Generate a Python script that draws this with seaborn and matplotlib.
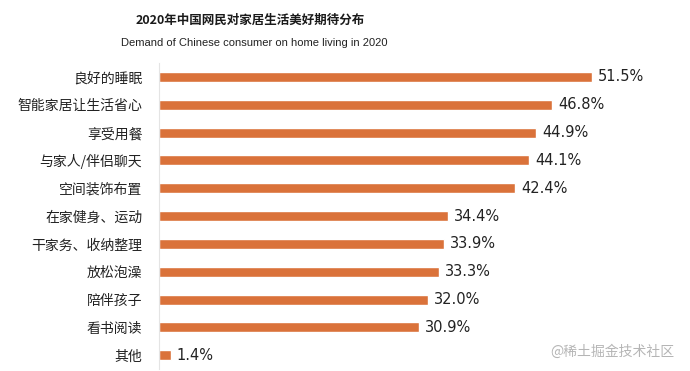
import pandas as pd
import matplotlib
matplotlib.use('Agg')
import matplotlib.pyplot as plt
import seaborn as sns

# data
categories = ['良好的睡眠', '智能家居让生活省心', '享受用餐', '与家人/伴侣聊天', '空间装饰布置',
              '在家健身、运动', '干家务、收纳整理', '放松泡澡', '陪伴孩子', '看书阅读', '其他']
shares = [51.5, 46.8, 44.9, 44.1, 42.4, 34.4, 33.9, 33.3, 32.0, 30.9, 1.4]

title_cn = '2020年中国网民对家居生活美好期待分布'
title_en = 'Demand of Chinese consumer on home living in 2020'
watermark = '@稀土掘金技术社区'

df = pd.DataFrame({'item': categories, 'share': shares})

sns.set_style('white')
plt.rcParams['font.family'] = ['Noto Sans CJK SC', 'DejaVu Sans']

fig = plt.figure(figsize=(6.9, 3.71), dpi=100)
ax = fig.add_axes([159 / 690, 0.005, 521 / 690, 0.825])

sns.barplot(data=df, x='share', y='item', color='#DA723A', width=0.36,
            saturation=1, ax=ax)

ax.set_xlim(0, 521 / 8.4)
ax.set_ylim(len(categories) - 0.5, -0.5)
ax.set_xlabel('')
ax.set_ylabel('')
ax.set_xticks([])
ax.tick_params(axis='y', length=0, pad=12, labelsize=10, labelcolor='#222222')
for s in ['top', 'right', 'bottom']:
    ax.spines[s].set_visible(False)
ax.spines['left'].set_color('#e4e4e4')
ax.spines['left'].set_linewidth(0.8)

for i, v in enumerate(shares):
    ax.text(v + 0.7, i, f'{v:.1f}%', va='center', ha='left',
            fontsize=10.5, color='#222222', family='DejaVu Sans')

fig.text(250 / 690, 1 - 20 / 371, title_cn, ha='center', va='center',
         fontsize=9, fontweight='bold', color='#1a1a1a')
fig.text(254 / 690, 1 - 43 / 371, title_en, ha='center', va='center',
         fontsize=8, color='#222222', family='Liberation Sans')
fig.text(612 / 690, 1 - 352 / 371, watermark, ha='center', va='center',
         fontsize=10, color='#b5b5b5')

fig.savefig('out.png', dpi=100)
